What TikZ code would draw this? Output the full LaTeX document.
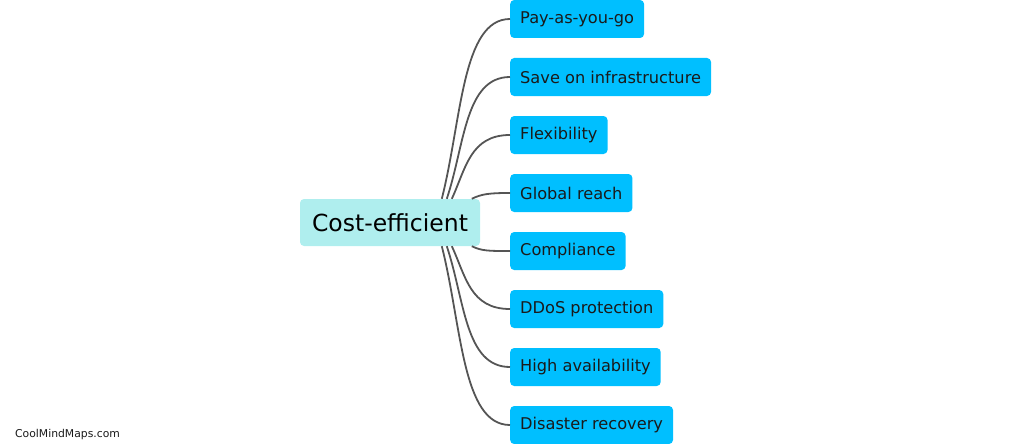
\documentclass[tikz,border=0pt]{standalone}
\usepackage{fontspec}
\setmainfont{DejaVu Sans}
\definecolor{childblue}{HTML}{00BFFF}
\definecolor{rootcol}{HTML}{AFEEEE}
\definecolor{linecol}{HTML}{555555}
\definecolor{txtcol}{HTML}{1A1A1A}
\begin{document}
\begin{tikzpicture}[x=1pt,y=-1pt,
  childbox/.style={fill=childblue, rounded corners=4pt, anchor=west, minimum height=38pt, inner xsep=10pt, inner ysep=0pt, font=\fontsize{16.2}{19}\selectfont, text=txtcol},
  rootbox/.style={fill=rootcol, rounded corners=4pt, minimum width=180pt, minimum height=47pt, font=\fontsize{23.5}{28}\selectfont, text=black},
  conn/.style={draw=linecol, line width=1.8pt}]
\useasboundingbox (0,0) rectangle (1022,444);
\node[rootbox] (root) at (390,222.5) {Cost-efficient};
\node[childbox] (c1) at (510,19) {Pay-as-you-go};
\node[childbox] (c2) at (510,77) {Save on infrastructure};
\node[childbox] (c3) at (510,135) {Flexibility};
\node[childbox] (c4) at (510,193) {Global reach};
\node[childbox] (c5) at (510,251) {Compliance};
\node[childbox] (c6) at (510,309) {DDoS protection};
\node[childbox] (c7) at (510,367) {High availability};
\node[childbox] (c8) at (510,425) {Disaster recovery};
\draw[conn] ([xshift=142pt]root.north west) .. controls +(20,-79) and +(-48,0) .. (c1.west);
\draw[conn] ([xshift=147pt]root.north west) .. controls +(18,-54) and +(-45,0) .. (c2.west);
\draw[conn] ([xshift=152pt]root.north west) .. controls +(14,-30) and +(-40,0) .. (c3.west);
\draw[conn] ([xshift=172pt]root.north west) .. controls +(10,-5) and +(-20,0) .. (c4.west);
\draw[conn] ([xshift=172pt]root.south west) .. controls +(10,5) and +(-20,0) .. (c5.west);
\draw[conn] ([xshift=152pt]root.south west) .. controls +(14,30) and +(-40,0) .. (c6.west);
\draw[conn] ([xshift=147pt]root.south west) .. controls +(18,54) and +(-45,0) .. (c7.west);
\draw[conn] ([xshift=142pt]root.south west) .. controls +(20,79) and +(-48,0) .. (c8.west);
\node[anchor=west, font=\fontsize{10.8}{13}\selectfont, inner sep=0pt, text=txtcol] (wm) at (15,435) {CoolMindMaps.com};
\end{tikzpicture}
\end{document}
